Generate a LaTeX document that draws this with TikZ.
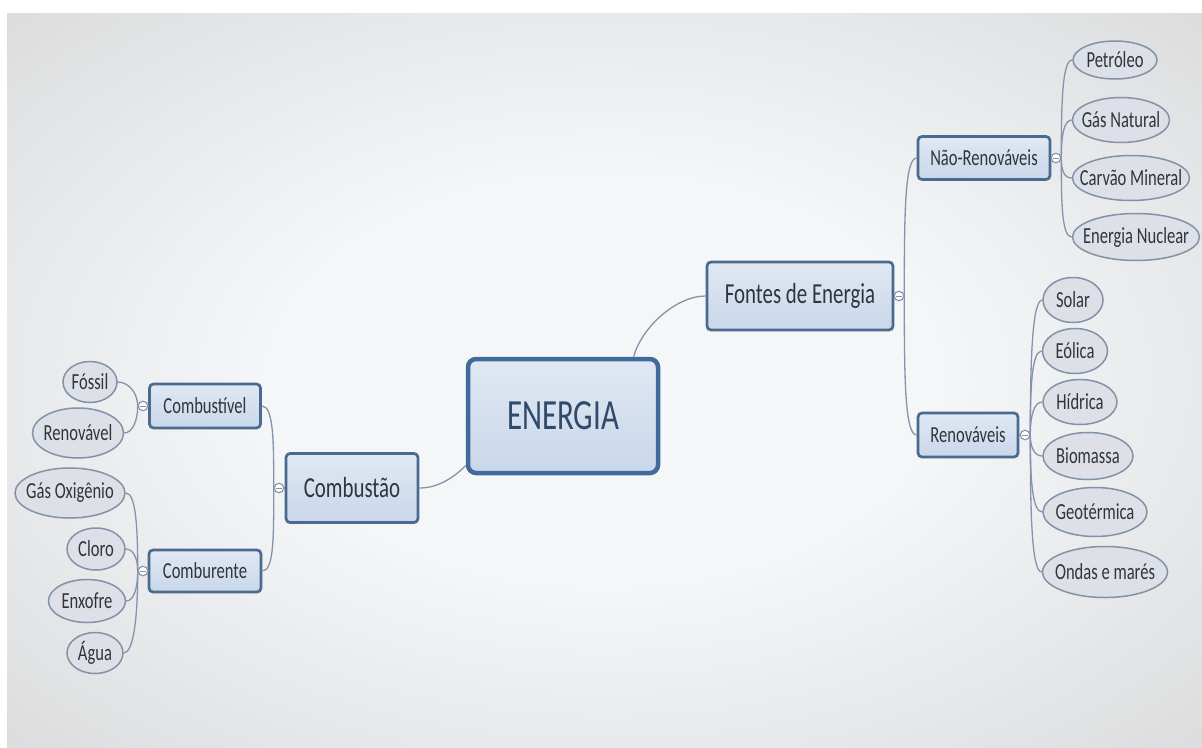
\documentclass[tikz,border=0pt]{standalone}
\usepackage{fontspec}
\setmainfont{Carlito}[FakeStretch=0.72]
\usetikzlibrary{shapes.geometric}
\definecolor{boxborder}{HTML}{4A6A90}
\definecolor{bigborder}{HTML}{406A9B}
\definecolor{boxtop}{HTML}{E0E8F3}
\definecolor{boxbot}{HTML}{C9D7EA}
\definecolor{ellfill}{HTML}{DDE0E7}
\definecolor{ellborder}{HTML}{8292A8}
\definecolor{conncol}{HTML}{8494AB}
\definecolor{txt}{HTML}{30353C}
\definecolor{bigtxt}{HTML}{2F4A6B}
\definecolor{bgin}{HTML}{F5F6F7}
\definecolor{bgmid}{HTML}{E2E3E4}
\definecolor{bgout}{HTML}{CACACA}
\definecolor{bgcorner}{HTML}{C0C0C0}
\pgfdeclareradialshading{bgshade}{\pgfpoint{0bp}{0bp}}{color(0bp)=(bgin); color(14bp)=(bgin); color(30bp)=(bgmid); color(50bp)=(bgout); color(71bp)=(bgcorner)}
\newcommand{\ztxt}[1]{\makebox[0pt]{#1}}
\begin{document}
\begin{tikzpicture}[x=1pt,y=1pt,
  box/.style={rectangle, rounded corners=4pt, draw=boxborder, line width=2.7pt, top color=boxtop, bottom color=boxbot, text=txt, inner sep=0pt},
  bigbox/.style={box, draw=bigborder, line width=4.5pt, rounded corners=8pt, text=bigtxt},
  ell/.style={ellipse, draw=ellborder, line width=1.5pt, fill=ellfill, inner sep=0pt, text=txt, font=\fontsize{23}{25}\selectfont},
  conn/.style={draw=conncol, line width=1.3pt},
  mk/.style={circle, draw=conncol, line width=1.1pt, fill=white, minimum size=9.5pt, inner sep=0pt,
    path picture={\draw[conncol, line width=0.9pt] ([xshift=1.8pt]path picture bounding box.west) -- ([xshift=-1.8pt]path picture bounding box.east);}},
  small/.style={font=\fontsize{23}{25}\selectfont},
  mid/.style={font=\fontsize{29}{31}\selectfont}
]
\useasboundingbox (0,0) rectangle (1202,-747);
\fill[white] (0,0) rectangle (1202,-747);
\shade[shading=bgshade] (7,-13) rectangle (1202,-747);

% main boxes
\node[bigbox, minimum width=190pt, minimum height=114pt, font=\fontsize{43}{45}\selectfont] (energia) at (563,-416) {ENERGIA};
\node[box, mid, minimum width=186pt, minimum height=68pt] (fontes) at (800,-296) {Fontes de Energia};
\node[box, mid, minimum width=132pt, minimum height=69pt] (combustao) at (352,-488) {Combustão};
\node[box, small, minimum width=111pt, minimum height=44pt] (cbv) at (205,-406) {Combustível};
\node[box, small, minimum width=112pt, minimum height=42pt] (cbr) at (205,-571) {Comburente};
\node[box, small, minimum width=132pt, minimum height=43pt] (nren) at (984,-158) {Não-Renováveis};
\node[box, small, minimum width=100pt, minimum height=44pt] (ren) at (968,-435) {Renováveis};

% left ellipses
\node[ell, minimum width=54pt, minimum height=41pt] (fossil) at (90,-382) {\ztxt{Fóssil}};
\node[ell, minimum width=91pt, minimum height=50pt] (renov) at (78,-433) {\ztxt{Renovável}};
\node[ell, minimum width=110pt, minimum height=50pt] (oxig) at (70,-493) {\ztxt{Gás Oxigênio}};
\node[ell, minimum width=58pt, minimum height=42pt] (cloro) at (96,-549) {\ztxt{Cloro}};
\node[ell, minimum width=77pt, minimum height=43pt] (enxofre) at (87,-601) {\ztxt{Enxofre}};
\node[ell, minimum width=56pt, minimum height=41pt] (agua) at (95,-653) {\ztxt{Água}};

% right ellipses
\node[ell, minimum width=84pt, minimum height=38pt] (petroleo) at (1115,-60) {\ztxt{Petróleo}};
\node[ell, minimum width=97pt, minimum height=45pt] (gas) at (1121,-120) {\ztxt{Gás Natural}};
\node[ell, minimum width=117pt, minimum height=45pt] (carvao) at (1131,-178) {\ztxt{Carvão Mineral}};
\node[ell, minimum width=127pt, minimum height=47pt] (nuclear) at (1136,-237) {\ztxt{Energia Nuclear}};
\node[ell, minimum width=60pt, minimum height=45pt] (solar) at (1073,-300) {\ztxt{Solar}};
\node[ell, minimum width=65pt, minimum height=45pt] (eolica) at (1075,-351) {\ztxt{Eólica}};
\node[ell, minimum width=74pt, minimum height=45pt] (hidrica) at (1080,-402) {\ztxt{Hídrica}};
\node[ell, minimum width=90pt, minimum height=47pt] (biomassa) at (1088,-456) {\ztxt{Biomassa}};
\node[ell, minimum width=104pt, minimum height=49pt] (geo) at (1095,-512) {\ztxt{Geotérmica}};
\node[ell, minimum width=125pt, minimum height=51pt] (ondas) at (1105,-572) {\ztxt{Ondas e marés}};

% markers
\node[mk] (mC) at (279,-488) {};
\node[mk] (mCv) at (143,-406) {};
\node[mk] (mCr) at (143,-571) {};
\node[mk] (mF) at (899,-296) {};
\node[mk] (mN) at (1056,-158) {};
\node[mk] (mR) at (1025,-435) {};

% connectors
\draw[conn] (energia.40) to[out=75,in=180,out distance=30,in distance=30] (fontes.west);
\draw[conn] (energia.207) to[out=225,in=0,out distance=15,in distance=20] (combustao.east);

\draw[conn] (mC.east) -- (combustao.west);
\draw[conn] (mC.west) to[out=90,in=0,out distance=45,in distance=12] (cbv.east);
\draw[conn] (mC.west) to[out=-90,in=0,out distance=45,in distance=12] (cbr.east);

\draw[conn] (mCv.east) -- (cbv.west);
\draw[conn] (mCv.west) to[out=90,in=0,out distance=14,in distance=10] (fossil.east);
\draw[conn] (mCv.west) to[out=-90,in=0,out distance=15,in distance=8] (renov.east);

\draw[conn] (mCr.east) -- (cbr.west);
\draw[conn] (mCr.west) to[out=90,in=0,out distance=45,in distance=10] (oxig.east);
\draw[conn] (mCr.west) to[out=90,in=0,out distance=12,in distance=8] (cloro.east);
\draw[conn] (mCr.west) to[out=-90,in=0,out distance=16,in distance=8] (enxofre.east);
\draw[conn] (mCr.west) to[out=-90,in=0,out distance=45,in distance=10] (agua.east);

\draw[conn] (mF.west) -- (fontes.east);
\draw[conn] (mF.east) to[out=90,in=180,out distance=80,in distance=12] (nren.west);
\draw[conn] (mF.east) to[out=-90,in=180,out distance=80,in distance=12] (ren.west);

\draw[conn] (mN.west) -- (nren.east);
\draw[conn] (mN.east) to[out=90,in=180,out distance=55,in distance=10] (petroleo.west);
\draw[conn] (mN.east) to[out=90,in=180,out distance=22,in distance=8] (gas.west);
\draw[conn] (mN.east) to[out=-90,in=180,out distance=12,in distance=8] (carvao.west);
\draw[conn] (mN.east) to[out=-90,in=180,out distance=45,in distance=10] (nuclear.west);

\draw[conn] (mR.west) -- (ren.east);
\draw[conn] (mR.east) to[out=90,in=180,out distance=75,in distance=10] (solar.west);
\draw[conn] (mR.east) to[out=90,in=180,out distance=48,in distance=10] (eolica.west);
\draw[conn] (mR.east) to[out=90,in=180,out distance=20,in distance=8] (hidrica.west);
\draw[conn] (mR.east) to[out=-90,in=180,out distance=12,in distance=8] (biomassa.west);
\draw[conn] (mR.east) to[out=-90,in=180,out distance=45,in distance=10] (geo.west);
\draw[conn] (mR.east) to[out=-90,in=180,out distance=80,in distance=10] (ondas.west);
\end{tikzpicture}
\end{document}
